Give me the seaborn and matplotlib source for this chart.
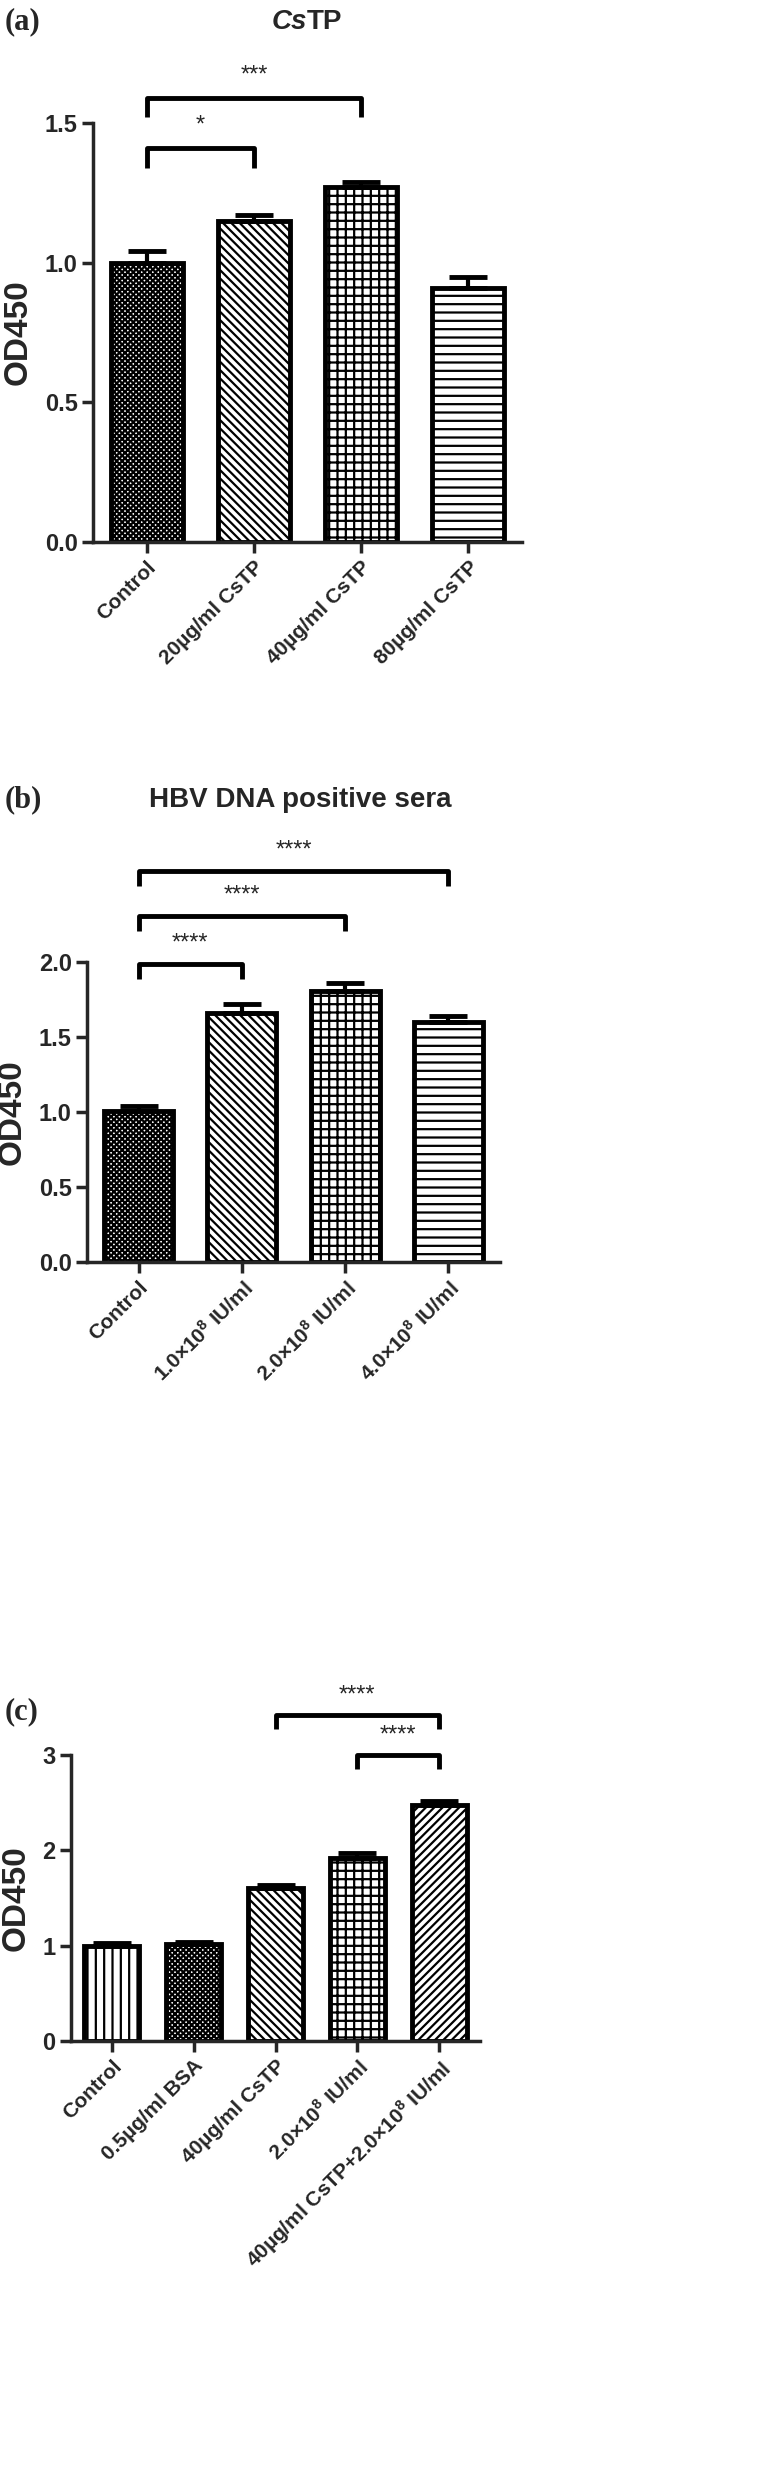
import numpy as np
import pandas as pd
import matplotlib
matplotlib.use("Agg")
import matplotlib.pyplot as plt
import seaborn as sns

sns.set_style("ticks")
plt.rcParams['font.family'] = ['Liberation Sans', 'DejaVu Sans']
plt.rcParams['font.weight'] = 'bold'
plt.rcParams['mathtext.fontset'] = 'custom'
plt.rcParams['mathtext.rm'] = 'Liberation Sans:bold'
plt.rcParams['mathtext.bf'] = 'Liberation Sans:bold'
plt.rcParams['mathtext.default'] = 'bf'
plt.rcParams['hatch.linewidth'] = 1.6

# ---- data ----
cat_a = ["Control", "20µg/ml CsTP", "40µg/ml CsTP", "80µg/ml CsTP"]
val_a = [1.00, 1.15, 1.27, 0.91]
err_a = [0.04, 0.02, 0.02, 0.04]
hatch_a = ["xxxxxx", "\\\\\\\\", "++", "--"]
sig_a = [(0, 1, 1.41, "*"), (0, 2, 1.59, "***")]

cat_b = ["Control", r"1.0×10$^{8}$ IU/ml", r"2.0×10$^{8}$ IU/ml", r"4.0×10$^{8}$ IU/ml"]
val_b = [1.01, 1.66, 1.81, 1.60]
err_b = [0.03, 0.06, 0.05, 0.04]
hatch_b = ["xxxxxx", "\\\\\\\\", "++", "--"]
sig_b = [(0, 1, 1.99, "****"), (0, 2, 2.31, "****"), (0, 3, 2.61, "****")]

cat_c = ["Control", "0.5µg/ml BSA", "40µg/ml CsTP", r"2.0×10$^{8}$ IU/ml",
         r"40µg/ml CsTP+2.0×10$^{8}$ IU/ml"]
val_c = [1.00, 1.02, 1.61, 1.92, 2.48]
err_c = [0.03, 0.02, 0.03, 0.05, 0.04]
hatch_c = ["||", "xxxxxx", "\\\\\\\\", "++", "////"]
sig_c = [(3, 4, 3.0, "****"), (2, 4, 3.42, "****")]

W, H = 763, 2480
fig = plt.figure(figsize=(W / 100, H / 100), dpi=100)


def rect(l, r, top, bot):
    return [l / W, 1 - bot / H, (r - l) / W, (bot - top) / H]


def panel(r, cats, vals, errs, hatches, sigs, ylim, yticks, ytl, brh):
    ax = fig.add_axes(r)
    df = pd.DataFrame({"cat": cats, "val": vals})
    sns.barplot(data=df, x="cat", y="val", ax=ax, color="white", width=0.67,
                edgecolor="black", linewidth=3.5, errorbar=None)
    for p, h in zip(ax.patches, hatches):
        p.set_hatch(h)
        p.set_facecolor("white")
    x = np.arange(len(cats))
    ax.errorbar(x, vals, yerr=[np.zeros(len(errs)), errs], fmt="none",
                ecolor="black", elinewidth=3, capsize=14, capthick=3.5, zorder=1)
    ax.set_ylim(*ylim)
    ax.set_xlim(-0.5, len(cats) - 0.5)
    ax.set_yticks(yticks)
    ax.set_yticklabels(ytl, fontsize=17, fontweight="bold")
    ax.set_xticks(x)
    ax.set_xticklabels(cats, rotation=45, ha="right", rotation_mode="anchor",
                       fontsize=15, fontweight="bold")
    ax.set_xlabel("")
    ax.set_ylabel("OD450", fontsize=24, fontweight="bold", labelpad=8)
    sns.despine(ax=ax)
    for s in ["left", "bottom"]:
        ax.spines[s].set_linewidth(2.5)
    ax.tick_params(axis="both", width=2.5, length=8, pad=3)
    for i, j, y, t in sigs:
        ax.plot([i, i, j, j], [y - brh, y, y, y - brh], color="black", lw=3.5,
                clip_on=False, solid_capstyle="butt")
        ax.text((i + j) / 2, y + brh * 0.6, t, ha="center", va="bottom",
                fontsize=17, fontweight="normal", clip_on=False)
    return ax


panel(rect(93, 522, 123, 542), cat_a, val_a, err_a, hatch_a, sig_a,
      (0, 1.5), [0, 0.5, 1.0, 1.5], ["0.0", "0.5", "1.0", "1.5"], 0.07)
panel(rect(87, 500, 962, 1262), cat_b, val_b, err_b, hatch_b, sig_b,
      (0, 2.0), [0, 0.5, 1.0, 1.5, 2.0], ["0.0", "0.5", "1.0", "1.5", "2.0"], 0.1)
panel(rect(71, 480, 1755, 2041), cat_c, val_c, err_c, hatch_c, sig_c,
      (0, 3), [0, 1, 2, 3], ["0", "1", "2", "3"], 0.15)

serif = ["Liberation Serif", "DejaVu Serif"]
fig.text(5 / W, 1 - 22 / H, "(a)", family=serif, fontsize=22, fontweight="bold", va="center")
fig.text(5 / W, 1 - 800 / H, "(b)", family=serif, fontsize=22, fontweight="bold", va="center")
fig.text(5 / W, 1 - 1712 / H, "(c)", family=serif, fontsize=22, fontweight="bold", va="center")
fig.text(307 / W, 1 - 22 / H, "Cs", fontsize=20, fontweight="bold", style="italic",
         ha="right", va="center")
fig.text(307 / W, 1 - 22 / H, "TP", fontsize=20, fontweight="bold", ha="left", va="center")
fig.text(300 / W, 1 - 800 / H, "HBV DNA positive sera", fontsize=20, fontweight="bold",
         ha="center", va="center")

fig.savefig("out.png", dpi=100)
